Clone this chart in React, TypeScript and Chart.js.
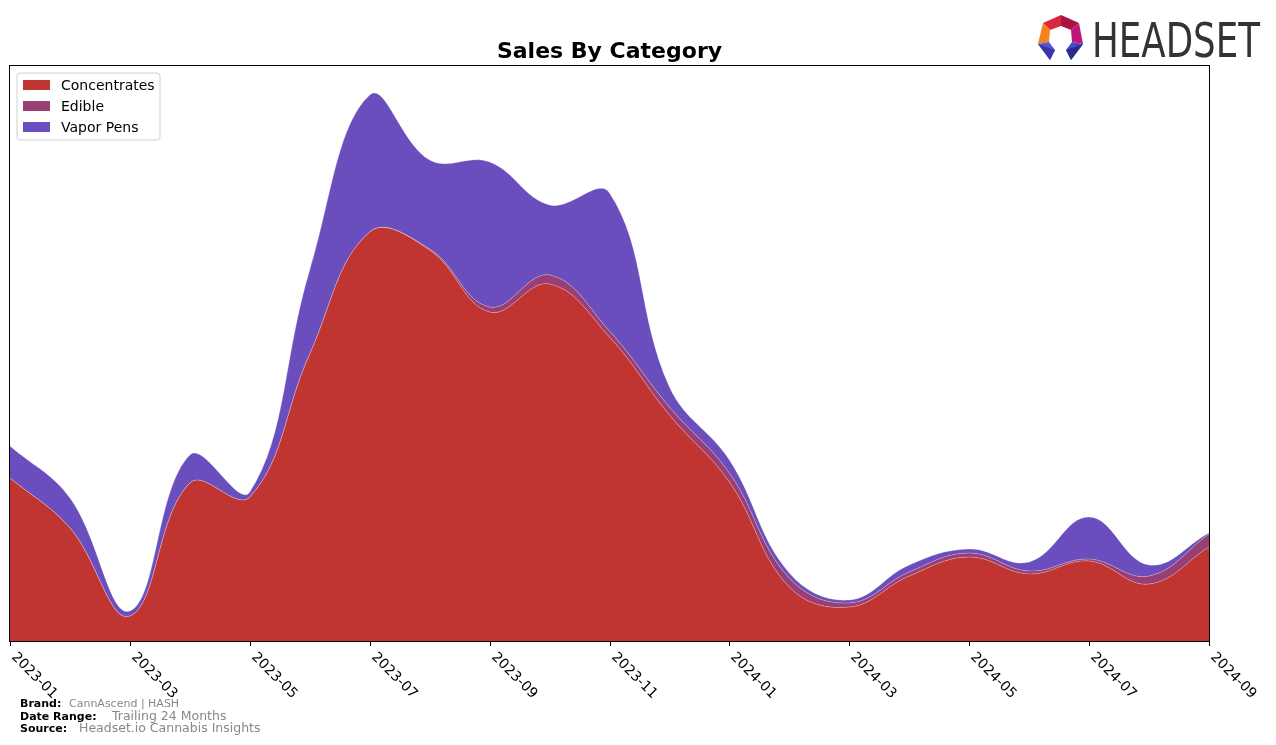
import React, { useEffect, useRef } from "react";
import { Chart, registerables } from "chart.js";

Chart.register(...registerables);

const months = [
  "2023-01", "2023-02", "2023-03", "2023-04", "2023-05", "2023-06", "2023-07",
  "2023-08", "2023-09", "2023-10", "2023-11", "2023-12", "2024-01", "2024-02",
  "2024-03", "2024-04", "2024-05", "2024-06", "2024-07", "2024-08", "2024-09",
];
const tickLabels = [
  "2023-01", "2023-03", "2023-05", "2023-07", "2023-09", "2023-11",
  "2024-01", "2024-03", "2024-05", "2024-07", "2024-09",
];
const concentrates = [163, 113, 25, 158, 144, 287, 409, 391, 329, 357, 304, 226, 159, 54, 34, 65, 84, 67, 80, 57, 94];
const edible = [0, 0, 0, 0, 0, 0, 0, 1, 5, 9, 6, 8, 9, 9, 4, 4, 4, 3, 2, 8, 13];
const vaporPens = [32, 30, 5, 28, 5, 84, 137, 89, 145, 70, 138, 20, 13, 5, 3, 7, 4, 9, 42, 11, 1];

const seriesNames = ["Concentrates", "Edible", "Vapor Pens"];
const seriesColors = ["#C03431", "#983F75", "#6A4EBE"];

const FONT = "'DejaVu Sans', sans-serif";

const decorPlugin = {
  id: "decor",
  afterDraw(chart: any) {
    const ctx = chart.ctx as CanvasRenderingContext2D;
    const area = chart.chartArea;
    const xs = chart.scales.x;
    ctx.save();

    // spines
    ctx.strokeStyle = "#000";
    ctx.lineWidth = 1;
    ctx.strokeRect(area.left - 0.5, area.top - 0.5, area.right - area.left + 1, area.bottom - area.top + 1);

    // ticks and labels
    ctx.fillStyle = "#000";
    ctx.font = `14px ${FONT}`;
    ctx.textAlign = "left";
    ctx.textBaseline = "middle";
    tickLabels.forEach((lab) => {
      const idx = months.indexOf(lab);
      const x = Math.round(xs.getPixelForValue(idx)) + 0.5;
      ctx.beginPath();
      ctx.moveTo(x, area.bottom);
      ctx.lineTo(x, area.bottom + 5);
      ctx.stroke();
      ctx.save();
      ctx.translate(x + 3, area.bottom + 14);
      ctx.rotate(Math.PI / 4);
      ctx.fillText(lab, 0, 0);
      ctx.restore();
    });

    // title
    ctx.font = `bold 22px ${FONT}`;
    ctx.textAlign = "center";
    ctx.textBaseline = "middle";
    ctx.fillText("Sales By Category", (area.left + area.right) / 2, 52);

    // legend
    const lx = 17, ly = 73, lw = 143, lh = 67;
    ctx.beginPath();
    const r = 3;
    ctx.moveTo(lx + r, ly);
    ctx.lineTo(lx + lw - r, ly);
    ctx.quadraticCurveTo(lx + lw, ly, lx + lw, ly + r);
    ctx.lineTo(lx + lw, ly + lh - r);
    ctx.quadraticCurveTo(lx + lw, ly + lh, lx + lw - r, ly + lh);
    ctx.lineTo(lx + r, ly + lh);
    ctx.quadraticCurveTo(lx, ly + lh, lx, ly + lh - r);
    ctx.lineTo(lx, ly + r);
    ctx.quadraticCurveTo(lx, ly, lx + r, ly);
    ctx.closePath();
    ctx.fillStyle = "rgba(255,255,255,0.8)";
    ctx.fill();
    ctx.strokeStyle = "#d0d0d0";
    ctx.stroke();
    ctx.font = `14px ${FONT}`;
    ctx.textAlign = "left";
    ctx.textBaseline = "middle";
    seriesNames.forEach((name, i) => {
      const cy = 85 + i * 21;
      ctx.fillStyle = seriesColors[i];
      ctx.fillRect(23, cy - 5, 27, 10);
      ctx.fillStyle = "#000";
      ctx.fillText(name, 61, cy + 1);
    });

    // footer
    const footer = [
      { k: "Brand:", v: "CannAscend | HASH", y: 704, vx: 69, vs: 11 },
      { k: "Date Range:", v: "Trailing 24 Months", y: 717, vx: 112, vs: 12.5 },
      { k: "Source:", v: "Headset.io Cannabis Insights", y: 729, vx: 79, vs: 12.5 },
    ];
    footer.forEach((f) => {
      ctx.font = `bold 11px ${FONT}`;
      ctx.fillStyle = "#000";
      ctx.fillText(f.k, 20, f.y);
      ctx.font = `${f.vs}px ${FONT}`;
      ctx.fillStyle = "#888";
      ctx.fillText(f.v, f.vx, f.y);
    });

    // logo icon
    const poly = (pts: number[][], col: string) => {
      ctx.beginPath();
      ctx.moveTo(pts[0][0], pts[0][1]);
      for (let i = 1; i < pts.length; i++) ctx.lineTo(pts[i][0], pts[i][1]);
      ctx.closePath();
      ctx.fillStyle = col;
      ctx.fill();
    };
    poly([[1043, 23], [1061, 15], [1061, 26], [1050, 30]], "#d9283c");
    poly([[1061, 15], [1079, 23], [1071, 30], [1061, 26]], "#a8143f");
    poly([[1043, 23], [1050, 30], [1049, 42], [1038, 44]], "#f08421");
    poly([[1079, 23], [1083, 44], [1072, 42], [1071, 30]], "#c0167a");
    poly([[1038, 44], [1049, 42], [1055, 50], [1050, 60]], "#5a55d4");
    poly([[1038, 44], [1055, 50], [1050, 60]], "#3b35a8");
    poly([[1083, 44], [1072, 42], [1066, 50], [1071, 60]], "#4a46c4");
    poly([[1083, 44], [1066, 50], [1071, 60]], "#2c2a8a");

    // logo text
    ctx.font = `48px ${FONT}`;
    ctx.fillStyle = "#333";
    ctx.textAlign = "left";
    ctx.textBaseline = "alphabetic";
    const w = ctx.measureText("HEADSET").width;
    ctx.save();
    ctx.translate(1092, 57);
    ctx.scale(168 / w, 1);
    ctx.fillText("HEADSET", 0, 0);
    ctx.restore();

    ctx.restore();
  },
};

export default function App() {
  const ref = useRef<HTMLCanvasElement | null>(null);
  useEffect(() => {
    if (!ref.current) return;
    const data = [concentrates, edible, vaporPens];
    const chart = new Chart(ref.current, {
      type: "line",
      data: {
        labels: months,
        datasets: seriesNames.map((name, i) => ({
          label: name,
          data: data[i],
          backgroundColor: seriesColors[i],
          borderColor: "rgba(255,255,255,0.35)",
          borderWidth: 0.8,
          fill: i === 0 ? "origin" : "-1",
          tension: 0.4,
          pointRadius: 0,
        })),
      },
      options: {
        responsive: false,
        animation: false,
        devicePixelRatio: 1,
        layout: { padding: { left: 10, right: 67, top: 66, bottom: 104 } },
        scales: {
          x: { display: false, offset: false },
          y: { display: false, stacked: true, min: 0, max: 575 },
        },
        plugins: {
          legend: { display: false },
          title: { display: false },
          tooltip: { enabled: false },
        },
      },
      plugins: [decorPlugin],
    });
    return () => chart.destroy();
  }, []);
  return (
    <div style={{ position: "absolute", left: 0, top: 0 }}>
      <canvas ref={ref} width={1276} height={745} />
    </div>
  );
}
